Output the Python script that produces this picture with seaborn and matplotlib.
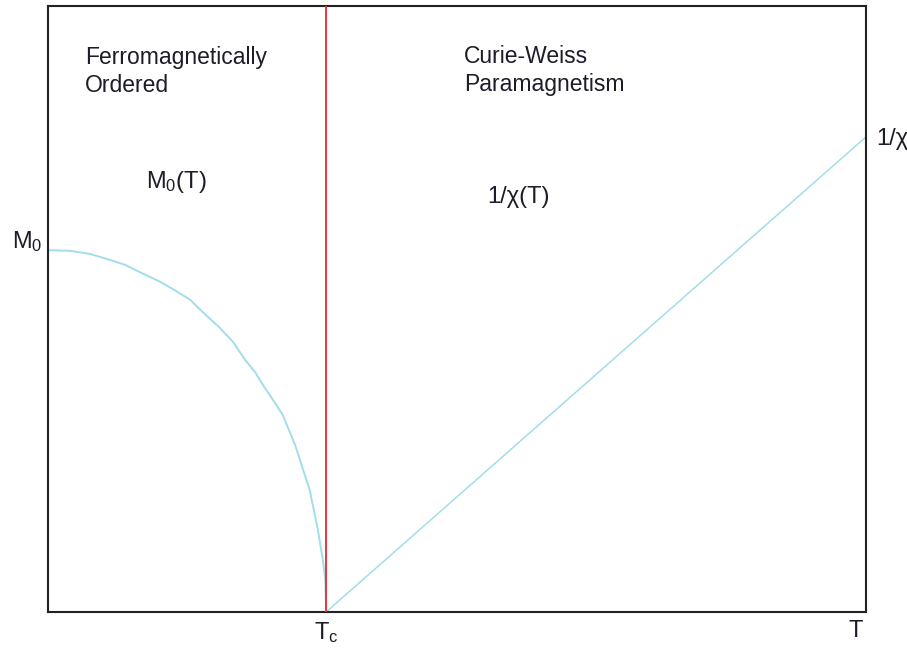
import matplotlib
matplotlib.use("Agg")
import matplotlib.pyplot as plt
import matplotlib.transforms as mtransforms
import seaborn as sns
import pandas as pd

# --- data (arbitrary units) ---
T_ordered = [0, 2.7, 5.1, 7.6, 9.4, 11.2, 13.7, 15.5, 17.4, 18.9, 21.0, 22.6,
             24.1, 25.3, 26.5, 27.9, 28.7, 30.2, 32.0, 33.0, 33.6, 33.9, 34.0]
M_ordered = [59.7, 59.6, 59.1, 58.1, 57.3, 56.1, 54.5, 53.1, 51.5, 49.5, 46.9, 44.6,
             41.6, 39.6, 37.0, 34.2, 32.5, 27.6, 20.1, 13.5, 8.6, 5.3, 0.0]
T_para = [34.0, 100.0]
inv_chi = [0.0, 78.4]
Tc = 34.0
M0 = 59.7
x_ticks = [Tc, 98.7]
x_tick_labels = [r"$\mathregular{T_c}$", "T"]
y_ticks = [M0]
y_tick_labels = [r"$\mathregular{M_0}$"]

sns.set_style("white")
plt.rcParams["font.family"] = ["Liberation Sans", "DejaVu Sans"]
plt.rcParams["mathtext.fontset"] = "custom"
plt.rcParams["mathtext.rm"] = "Liberation Sans"

txt_color = "#1c1c2a"
line_color = "#a3dcea"

fig = plt.figure(figsize=(9.07, 6.52), dpi=100)
ax = fig.add_axes([48 / 907, 40 / 652, 818 / 907, 606 / 652])

df1 = pd.DataFrame({"T": T_ordered, "M": M_ordered})
df2 = pd.DataFrame({"T": T_para, "M": inv_chi})
sns.lineplot(data=df1, x="T", y="M", ax=ax, color=line_color, linewidth=1.4, sort=False)
sns.lineplot(data=df2, x="T", y="M", ax=ax, color=line_color, linewidth=1.1, sort=False)
ax.axvline(Tc, color="#ee3340", linewidth=1.4, zorder=5)

ax.set_xlim(0, 100)
ax.set_ylim(0, 100)
ax.set_xlabel("")
ax.set_ylabel("")
ax.set_xticks(x_ticks)
ax.set_xticklabels(x_tick_labels, fontsize=17, color=txt_color)
ax.set_yticks(y_ticks)
ax.set_yticklabels(y_tick_labels, fontsize=17, color=txt_color)
ax.tick_params(axis="both", length=0)
ax.tick_params(axis="x", pad=6)
ax.tick_params(axis="y", pad=4)
for lab in ax.get_yticklabels():
    lab.set_transform(lab.get_transform() +
                      mtransforms.ScaledTranslation(0, 0.12, fig.dpi_scale_trans))
for s in ax.spines.values():
    s.set_visible(True)
    s.set_color("#222222")
    s.set_linewidth(1.5)

tk = dict(fontsize=16.5, color=txt_color, linespacing=1.3, va="top", ha="left")
ax.text(4.5, 93.4, "Ferromagnetically\nOrdered", **tk)
ax.text(50.9, 93.6, "Curie-Weiss\nParamagnetism", **tk)
ax.text(12.0, 70.0, r"$\mathregular{M_0(T)}$", fontsize=17, color=txt_color,
        ha="left", va="baseline")
ax.text(53.7, 67.5, "1/χ(T)", fontsize=17, color=txt_color, ha="left", va="baseline")
ax.text(101.2, 77.0, "1/χ", fontsize=17, color=txt_color, ha="left", va="baseline",
        clip_on=False)

fig.savefig("out.png", dpi=100)
